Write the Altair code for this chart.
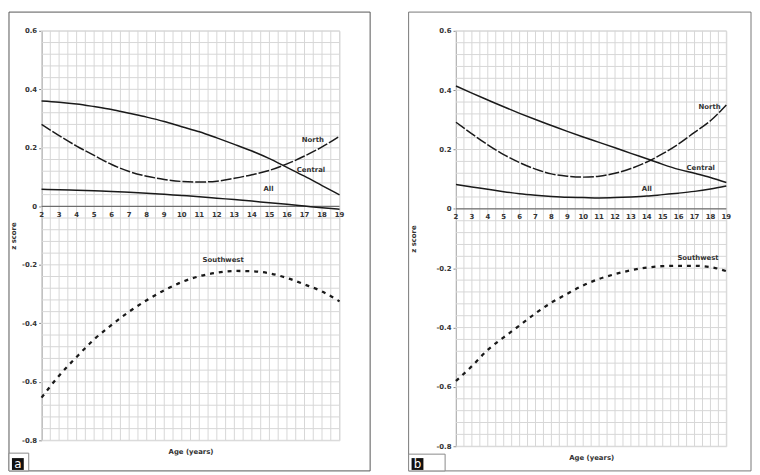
import altair as alt
import pandas as pd

# ---------------- data ----------------
AGES = list(range(2, 20))
X_TICK_LABELS = list(range(2, 20))
Y_TICKS = [-0.8, -0.6, -0.4, -0.2, 0.0, 0.2, 0.4, 0.6]

# panel a
A_CENTRAL = [0.360, 0.356, 0.350, 0.341, 0.331, 0.318, 0.305, 0.290, 0.272,
             0.255, 0.234, 0.212, 0.189, 0.163, 0.133, 0.103, 0.071, 0.039]
A_NORTH = [0.280, 0.242, 0.206, 0.174, 0.143, 0.119, 0.103, 0.092, 0.085,
           0.083, 0.086, 0.096, 0.108, 0.123, 0.145, 0.172, 0.203, 0.240]
A_ALL = [0.058, 0.057, 0.055, 0.053, 0.051, 0.048, 0.045, 0.041, 0.037,
         0.033, 0.028, 0.023, 0.018, 0.012, 0.007, 0.001, -0.005, -0.010]
A_SOUTHWEST = [-0.654, -0.579, -0.515, -0.455, -0.405, -0.360, -0.321, -0.287, -0.259,
               -0.239, -0.227, -0.221, -0.222, -0.229, -0.245, -0.267, -0.291, -0.325]

# panel b
B_CENTRAL = [0.414, 0.390, 0.367, 0.344, 0.322, 0.301, 0.281, 0.261, 0.242,
             0.224, 0.206, 0.187, 0.169, 0.150, 0.133, 0.120, 0.106, 0.089]
B_NORTH = [0.292, 0.253, 0.216, 0.183, 0.156, 0.134, 0.118, 0.110, 0.107,
           0.110, 0.120, 0.136, 0.158, 0.186, 0.219, 0.258, 0.297, 0.350]
B_ALL = [0.082, 0.074, 0.066, 0.058, 0.051, 0.046, 0.042, 0.039, 0.038,
         0.037, 0.038, 0.040, 0.043, 0.048, 0.053, 0.059, 0.067, 0.077]
B_SOUTHWEST = [-0.580, -0.530, -0.475, -0.433, -0.393, -0.352, -0.316, -0.286, -0.258,
               -0.236, -0.220, -0.207, -0.198, -0.193, -0.192, -0.192, -0.196, -0.210]

SERIES_LABELS = ["North", "Central", "All", "Southwest"]
A_LABEL_AGE = [17.48, 17.37, 14.95, 12.36]
A_LABEL_Z = [0.225, 0.124, 0.060, -0.183]
B_LABEL_AGE = [17.95, 17.39, 14.00, 17.22]
B_LABEL_Z = [0.344, 0.136, 0.068, -0.167]

GRID_X = [2 + 0.5 * i for i in range(35)]
GRID_Y = [round(-0.8 + 0.04 * i, 2) for i in range(36)]

FONT = "DejaVu Sans"
INK = "#1a1a1a"


def panel(central, north, allv, southwest, lab_age, lab_z, w, h,
          frame, box, square, letter, frame_color):
    xs = alt.Scale(domain=[2, 19], nice=False, zero=False)
    ys = alt.Scale(domain=[-0.8, 0.6], nice=False, zero=False)
    x_axis = alt.Axis(title="Age (years)", labels=False, ticks=False, domain=False,
                      grid=False, titleFont=FONT, titleFontSize=7, titleFontWeight="bold",
                      titleColor="#333", titleY=11, titleBaseline="middle")
    y_axis = alt.Axis(title="z score", values=Y_TICKS, grid=False,
                      labelExpr="toString(round(datum.value*10)/10)",
                      labelFont=FONT, labelFontSize=7, labelFontWeight="bold",
                      labelColor="#333",
                      labelPadding=2, tickSize=3, tickColor="#888",
                      domainColor="#999", titleFont=FONT, titleFontSize=7,
                      titleFontWeight="bold", titleColor="#333",
                      titleX=frame[0] + 5, titleBaseline="middle")

    def X():
        return alt.X("age:Q", scale=xs, axis=x_axis)

    def Y():
        return alt.Y("z:Q", scale=ys, axis=y_axis)

    gx = alt.Chart(pd.DataFrame({"age": GRID_X})).mark_rule(
        color="#d6d6d6", strokeWidth=1).encode(x=X())
    gy = alt.Chart(pd.DataFrame({"z": GRID_Y})).mark_rule(
        color="#d6d6d6", strokeWidth=1).encode(y=Y())
    zero = alt.Chart(pd.DataFrame({"z": [0.0]})).mark_rule(
        color="#555", strokeWidth=1).encode(y=Y())

    def line(vals, dash=None, width=1.5):
        kw = dict(color=INK, strokeWidth=width, interpolate="monotone")
        if dash:
            kw["strokeDash"] = dash
        return alt.Chart(pd.DataFrame({"age": AGES, "z": vals})).mark_line(**kw).encode(
            x=X(), y=Y())

    l_central = line(central)
    l_all = line(allv)
    l_north = line(north, dash=[11, 2])
    l_sw = line(southwest, dash=[4, 5], width=2.3)

    xlab = alt.Chart(pd.DataFrame({"age": X_TICK_LABELS, "z": [0.0] * len(X_TICK_LABELS)})).mark_text(
        font=FONT, fontSize=7, fontWeight="bold", color="#333", dy=8.5,
        baseline="middle", align="center"
    ).encode(x=X(), y=Y(), text=alt.Text("age:Q", format="d"))

    slab = alt.Chart(pd.DataFrame({"age": lab_age, "z": lab_z, "t": SERIES_LABELS})).mark_text(
        font=FONT, fontSize=7, fontWeight="bold", color="#333", baseline="middle", align="center"
    ).encode(x=X(), y=Y(), text="t:N")

    one = pd.DataFrame({"k": [0]})
    fr = alt.Chart(one).mark_rect(fillOpacity=0, stroke=frame_color, strokeWidth=1).encode(
        x=alt.value(frame[0]), x2=alt.value(frame[1]),
        y=alt.value(frame[2]), y2=alt.value(frame[3]))
    bx = alt.Chart(one).mark_rect(fill="white", stroke="#888", strokeWidth=1).encode(
        x=alt.value(box[0]), x2=alt.value(box[1]),
        y=alt.value(box[2]), y2=alt.value(box[3]))
    sq = alt.Chart(one).mark_rect(fill="#111").encode(
        x=alt.value(square[0]), x2=alt.value(square[1]),
        y=alt.value(square[2]), y2=alt.value(square[3]))
    lt = alt.Chart(one).mark_text(font=FONT, fontSize=12, color="white",
                                  align="center", baseline="middle").encode(
        x=alt.value((square[0] + square[1]) / 2), y=alt.value((square[2] + square[3]) / 2 + 0.5),
        text=alt.value(letter))

    return alt.layer(gx, gy, zero, l_central, l_all, l_north, l_sw, xlab, slab,
                     fr, bx, sq, lt).properties(width=w, height=h)


pa = panel(A_CENTRAL, A_NORTH, A_ALL, A_SOUTHWEST, A_LABEL_AGE, A_LABEL_Z,
           302, 415,
           frame=(-33, 333, -19, 446), box=(-33, -13, 428, 446),
           square=(-30, -18, 433, 445), letter="a", frame_color="#555")
pb = panel(B_CENTRAL, B_NORTH, B_ALL, B_SOUTHWEST, B_LABEL_AGE, B_LABEL_Z,
           274, 421,
           frame=(-48, 299, -19, 446), box=(-48, -11, 429, 446),
           square=(-45, -33, 433, 445), letter="b", frame_color="#777")

chart = alt.hconcat(pa, pb, spacing=37, padding=0).configure_view(stroke=None).configure(
    background="white")

chart.save("out.html", embed_options={"renderer": "svg", "actions": False})
